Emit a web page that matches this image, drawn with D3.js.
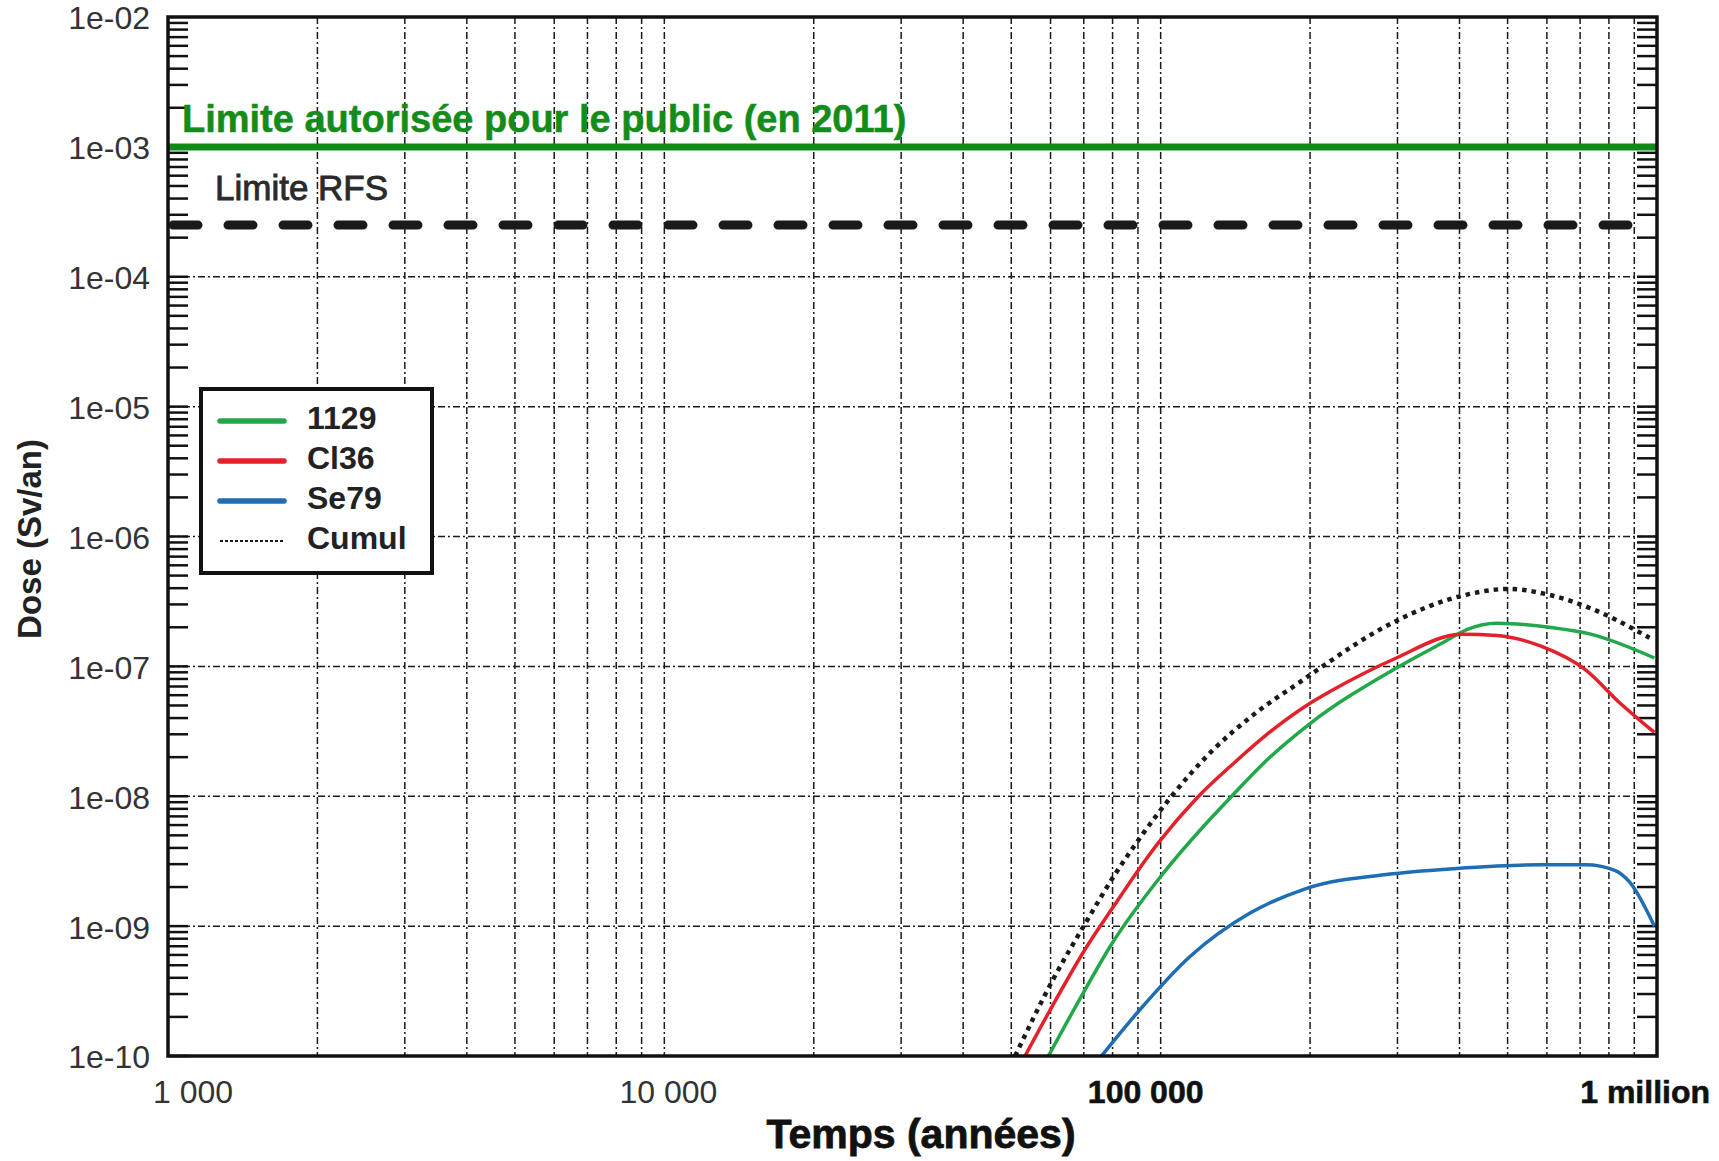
<!DOCTYPE html>
<html>
<head>
<meta charset="utf-8">
<script src="https://cdn.jsdelivr.net/npm/d3@7"></script>
<style>
body{margin:0;background:#fff;}
text{font-family:"Liberation Sans",Arial,Helvetica,sans-serif;}
</style>
</head>
<body>
<div id="svg-area"></div>
<script>
// time in years, dose in Sv/an
var i129Time = [59400, 69800, 79100, 100000, 121900, 139000, 163700, 200000, 294000, 370000, 415000, 475000, 612000, 735000, 988000];
var i129Dose = [1e-10, 3.05e-10, 6.97e-10, 2.41e-9, 5.85e-9, 1e-8, 1.9e-8, 3.63e-8, 9.4e-8, 1.52e-7, 1.93e-7, 2.15e-7, 1.99e-7, 1.77e-7, 1.16e-7];

var cl36Time = [53300, 59800, 71000, 80400, 90200, 100000, 118300, 140000, 171400, 200000, 219300, 294000, 405000, 476000, 584000, 718000, 843000, 988000];
var cl36Dose = [1e-10, 2.24e-10, 6.97e-10, 1.42e-9, 2.71e-9, 4.61e-9, 9.7e-9, 1.78e-8, 3.44e-8, 5.21e-8, 6.4e-8, 1.13e-7, 1.77e-7, 1.73e-7, 1.43e-7, 9.4e-8, 5.2e-8, 3.1e-8];

var se79Time = [76000, 90800, 114600, 151400, 195000, 294000, 405000, 584000, 718000, 822000, 881000, 988000];
var se79Dose = [1e-10, 2.27e-10, 5.83e-10, 1.26e-9, 1.93e-9, 2.53e-9, 2.8e-9, 2.97e-9, 2.97e-9, 2.69e-9, 2.18e-9, 1.0e-9];

var cumulTime = [50900, 60400, 70500, 80400, 92300, 103800, 127600, 153800, 191000, 209400, 294000, 405000, 504000, 598000, 735000, 966000];
var cumulDose = [1e-10, 3.75e-10, 1.05e-9, 2.41e-9, 5.2e-9, 9.4e-9, 2.28e-8, 4.24e-8, 7.6e-8, 9.7e-8, 2.18e-7, 3.5e-7, 3.95e-7, 3.6e-7, 2.8e-7, 1.66e-7];

var seriesNames = ["1129", "Cl36", "Se79", "Cumul"];
var seriesColors = ["#22a84a", "#e3212b", "#1f6db3", "#1a1a1a"];

var limitPublic = 1e-3;
var limitRFS = 2.5e-4;

var yTickValues = [1e-2, 1e-3, 1e-4, 1e-5, 1e-6, 1e-7, 1e-8, 1e-9, 1e-10];
var yTickLabels = ["1e-02", "1e-03", "1e-04", "1e-05", "1e-06", "1e-07", "1e-08", "1e-09", "1e-10"];
var xTickValues = [1000, 10000, 100000, 1000000];
var xTickLabels = ["1 000", "10 000", "100 000", "1 million"];

var width = 1719, height = 1161;
var plotLeft = 168, plotRight = 1657, plotTop = 17, plotBottom = 1056;

var x = d3.scaleLog().domain([1000, 1e6]).range([plotLeft, plotRight]);
var y = d3.scaleLog().domain([1e-10, 1e-2]).range([plotBottom, plotTop]);

var svg = d3.select('#svg-area')
    .append('svg')
    .attr('width', width)
    .attr('height', height);

svg.append('rect').attr('width', width).attr('height', height).style('fill', 'white');

// minor values for grid / ticks
var xMinor = [];
for (var e = 3; e < 6; e++) {
    for (var k = 1; k < 10; k++) xMinor.push(k * Math.pow(10, e));
}
var yMinor = [];
for (var e2 = -10; e2 < -2; e2++) {
    for (var k2 = 1; k2 < 10; k2++) yMinor.push(k2 * Math.pow(10, e2));
}

var grid = svg.append('g');
grid.selectAll('line.vg')
    .data(xMinor.filter(function(d){ return d > 1000; }))
    .enter()
    .append('line')
    .attr('x1', function(d){ return x(d); })
    .attr('x2', function(d){ return x(d); })
    .attr('y1', plotTop)
    .attr('y2', plotBottom)
    .attr('stroke', '#1a1a1a')
    .attr('stroke-width', 1.5)
    .attr('stroke-dasharray', '7,3,2,3');

grid.selectAll('line.hg')
    .data(yTickValues.filter(function(d){ return d < 1e-2 && d > 1e-10; }))
    .enter()
    .append('line')
    .attr('x1', plotLeft)
    .attr('x2', plotRight)
    .attr('y1', function(d){ return y(d); })
    .attr('y2', function(d){ return y(d); })
    .attr('stroke', '#1a1a1a')
    .attr('stroke-width', 1.5)
    .attr('stroke-dasharray', '7,3,2,3');

// inward ticks left and right
var ticks = svg.append('g');
ticks.selectAll('line.lt')
    .data(yMinor)
    .enter()
    .append('line')
    .attr('x1', plotLeft)
    .attr('x2', plotLeft + 20)
    .attr('y1', function(d){ return y(d); })
    .attr('y2', function(d){ return y(d); })
    .attr('stroke', '#111')
    .attr('stroke-width', 2.5);
ticks.selectAll('line.rt')
    .data(yMinor)
    .enter()
    .append('line')
    .attr('x1', plotRight)
    .attr('x2', plotRight - 20)
    .attr('y1', function(d){ return y(d); })
    .attr('y2', function(d){ return y(d); })
    .attr('stroke', '#111')
    .attr('stroke-width', 2.5);

// limits
svg.append('line')
    .attr('x1', plotLeft).attr('x2', plotRight)
    .attr('y1', y(limitPublic)).attr('y2', y(limitPublic))
    .attr('stroke', '#0f8a16')
    .attr('stroke-width', 7);

svg.append('line')
    .attr('x1', plotLeft + 5).attr('x2', plotRight)
    .attr('y1', y(limitRFS)).attr('y2', y(limitRFS))
    .attr('stroke', '#1a1a1a')
    .attr('stroke-width', 9)
    .attr('stroke-linecap', 'round')
    .attr('stroke-dasharray', '25,30');

svg.append('text')
    .attr('x', 182)
    .attr('y', 132)
    .style('font-size', '38px')
    .style('font-weight', 'bold')
    .style('fill', '#138c1a')
    .style('stroke', '#138c1a')
    .style('stroke-width', 0.5)
    .text('Limite autorisée pour le public (en 2011)');

svg.append('text')
    .attr('x', 215)
    .attr('y', 200)
    .style('font-size', '35px')
    .style('fill', '#2a2a2a')
    .style('stroke', '#2a2a2a')
    .style('stroke-width', 0.9)
    .text('Limite RFS');

// curves
var series = [
    {name: seriesNames[0], color: seriesColors[0], t: i129Time, v: i129Dose},
    {name: seriesNames[1], color: seriesColors[1], t: cl36Time, v: cl36Dose},
    {name: seriesNames[2], color: seriesColors[2], t: se79Time, v: se79Dose},
    {name: seriesNames[3], color: seriesColors[3], t: cumulTime, v: cumulDose}
];

var line = d3.line()
    .x(function(d){ return x(d[0]); })
    .y(function(d){ return y(d[1]); })
    .curve(d3.curveMonotoneX);

svg.selectAll('path.curve')
    .data(series)
    .enter()
    .append('path')
    .attr('class', 'curve')
    .attr('d', function(s){ return line(d3.zip(s.t, s.v)); })
    .attr('fill', 'none')
    .attr('stroke', function(s){ return s.color; })
    .attr('stroke-width', function(s){ return s.name == 'Cumul' ? 4.5 : 3.5; })
    .attr('stroke-dasharray', function(s){ return s.name == 'Cumul' ? '4.5,5' : null; });

// frame
svg.append('rect')
    .attr('x', plotLeft)
    .attr('y', plotTop)
    .attr('width', plotRight - plotLeft)
    .attr('height', plotBottom - plotTop)
    .attr('fill', 'none')
    .attr('stroke', '#111')
    .attr('stroke-width', 3.5);

// y tick labels
svg.selectAll('text.ylab')
    .data(yTickValues)
    .enter()
    .append('text')
    .attr('x', 150)
    .attr('y', function(d){ return y(d) + 4; })
    .attr('text-anchor', 'end')
    .attr('dominant-baseline', 'middle')
    .style('font-size', '32px')
    .style('fill', '#333')
    .text(function(d, i){ return yTickLabels[i]; });

// x tick labels
svg.selectAll('text.xlab')
    .data(xTickValues)
    .enter()
    .append('text')
    .attr('x', function(d, i){
        if (i == 0) return x(d) - 15;
        if (i == xTickValues.length - 1) return x(d) + 53;
        return x(d) + (i == 1 ? 4 : -15);
    })
    .attr('y', 1103)
    .attr('text-anchor', function(d, i){
        if (i == 0) return 'start';
        if (i == xTickValues.length - 1) return 'end';
        return 'middle';
    })
    .style('font-size', '32px')
    .style('font-weight', function(d){ return d >= 100000 ? 'bold' : 'normal'; })
    .style('fill', function(d){ return d >= 100000 ? '#111' : '#333'; })
    .style('stroke', function(d){ return d >= 100000 ? '#111' : 'none'; })
    .style('stroke-width', 0.6)
    .text(function(d, i){ return xTickLabels[i]; });

// axis titles
svg.append('text')
    .attr('x', 921)
    .attr('y', 1148)
    .attr('text-anchor', 'middle')
    .style('font-size', '41px')
    .style('font-weight', 'bold')
    .style('fill', '#111')
    .style('stroke', '#111')
    .style('stroke-width', 0.8)
    .text('Temps (années)');

svg.append('text')
    .attr('transform', 'translate(41,539) rotate(-90)')
    .attr('text-anchor', 'middle')
    .style('font-size', '33px')
    .style('font-weight', 'bold')
    .style('fill', '#222')
    .text('Dose (Sv/an)');

// legend
var legend = svg.append('g');
legend.append('rect')
    .attr('x', 201)
    .attr('y', 389)
    .attr('width', 231)
    .attr('height', 184)
    .attr('fill', 'white')
    .attr('stroke', '#111')
    .attr('stroke-width', 4);

var entry = legend.selectAll('g.entry')
    .data(series)
    .enter()
    .append('g')
    .attr('transform', function(d, i){ return 'translate(0,' + (421 + i * 40) + ')'; });

entry.append('line')
    .attr('x1', 220)
    .attr('x2', 284)
    .attr('stroke', function(s){ return s.color; })
    .attr('stroke-width', function(s){ return s.name == 'Cumul' ? 2 : 5.5; })
    .attr('stroke-linecap', function(s){ return s.name == 'Cumul' ? 'butt' : 'round'; })
    .attr('stroke-dasharray', function(s){ return s.name == 'Cumul' ? '3,2' : null; });

entry.append('text')
    .attr('x', 307)
    .attr('y', 0)
    .attr('dominant-baseline', 'middle')
    .style('font-size', '32px')
    .style('font-weight', 'bold')
    .style('fill', '#222')
    .text(function(s){ return s.name; });
</script>
</body>
</html>
